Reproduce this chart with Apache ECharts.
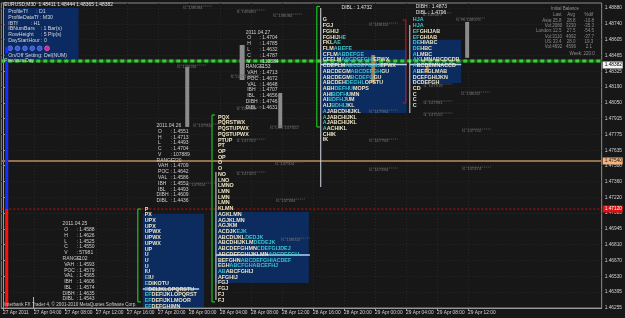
<!DOCTYPE html>
<html><head><meta charset="utf-8">
<script src="https://cdn.jsdelivr.net/npm/echarts@6.0.0/dist/echarts.min.js"></script>
<style>html,body{margin:0;padding:0;background:#171717;overflow:hidden}#chart{width:625px;height:318px}</style>
</head><body><div id="chart"></div>
<script>
// ================= DATA (time = hours since 27 Apr 2011 00:00, price = EURUSD) =================
const xLabels = ['27 Apr 2011','27 Apr 04:00','27 Apr 08:00','27 Apr 12:00','27 Apr 16:00','27 Apr 20:00','28 Apr 00:00','28 Apr 04:00','28 Apr 08:00','28 Apr 12:00','28 Apr 16:00','28 Apr 20:00','29 Apr 00:00','29 Apr 04:00','29 Apr 08:00','29 Apr 12:00'];
const xLabelHours = [0,4,8,12,16,20,24,28,32,36,40,44,48,52,56,60];
const yLabels = ['1.46255','1.46395','1.46530','1.46670','1.46810','1.46945','1.47085','1.47220','1.47360','1.47500','1.47635','1.47775','1.47915','1.48050','1.48190','1.48325','1.48465','1.48605','1.48740','1.48880'];

const chartTitle = 'EURUSD,M30  1.48411 1.48444 1.48365 1.48382';
const copyright = 'Interbank FX Trader 4, \u00a9 2001-2010 MetaQuotes Software Corp.';

// horizontal levels: previous-day line, orange level, red level, bid
const levelPrices = [1.48416, 1.47541, 1.47121, 1.48382];
const levelTags   = ['', '1.47540', '1.47120', '1.48382'];

// market profiles: start hour, price of first row, TPO rows ("|" switches colour)
const profileStartHour = [18.28, 27.72, 41.25, 52.86];
const profileTopPrice  = [1.47121, 1.47924, 1.48775, 1.48775];
const rowStep = 0.0005;
const profileA = ['P','PX','UPX','UPX','UPWX','UPWX','UPWX','UP','U','U','U','IU','|E|IU','|E|DIKOTU','|E|DEIJKLOPQRSTU','|EF|DEFIJKLOPQRST','|EF|DEFIJKLMOOR','|EF|DEFGHIMN'];
const profileB = ['PQX','PQRSTWX','PQSTUPWX','PQSTUPWX','PTUP','PT','OP','OP','O','O','NO','LNO','LMNO','LMN','LMN','LMN','KLMN','AGKLMN','AGJKLMN','AGJKM','ACDJK|EJK','ABCDIJKL|DEDJK','ABCDHIJKLM|DEDEJK','ABCDEFGHMN|CDEFGIJDEJ','ABCDEFGHIJKLMN|ABCDEFGH','BEFGHN|ABCDEFGHIACDEF','EGH|ABCFGHABCEFHJ','|AB|ABCFGHIJ','AFGHIJ','FGJ','FGJ','FJ','FJ'];
const profileC = ['G','FGJ','FGHIJ','FGHIJ|HE','FKL|AE','FLM|ABEFE','CFLM|ABDEFGE','CEFLM|ABCDEFGHI|EPWX','CDEFLM|ABCDEFGHIJ|EFWX','ABCDEGM|ABCDEFGH|GU','ABCDEGM|BCDEFG|GU','ABCDEH|DEGHL|OPSTU','ABH|DEFHU|MOPS','AHI|BDFH|UMN','AI|BDFHJ|UM','AIJ|BDHIJ|KL','|A|JABCDHIJKL','|A|JABCHIJKL','|A|JABCHIJKL','|A|ACHIKL','CHIK','IK'];
const profileD = ['|HJA','|HJA','|EF|GHIJAB','|EF|GHIAB','|DE|HIABC','|DE|HBC','|A|LMBC','|AK|LMNABCDCDB','|A|BCDEMNACCD','|A|BEFGLMAB','DCEFGHIJKN','DCDEFGH','CD','C','C','C'];

// value-area boxes [h0,h1,pTop,pBottom], POC lines [h0,h1,price]
const valueAreas = [[18.03,25.94,1.47078,1.46264],[27.34,39.46,1.47095,1.46474],[41.12,52.09,1.48513,1.47961],[52.73,59.11,1.48600,1.48224]];
const pocLines = [[18.03,25.30,1.46421],[27.47,39.59,1.46719],[40.99,52.09,1.48386],[52.48,59.11,1.48386]];
// initial-balance brackets (green) and day range lines (white) [h, pTop, pBottom]
const ibLines = [[17.39,1.47121,1.46308],[26.96,1.47944,1.46308],[40.48,1.48893,1.47839]];
const rangeLines = [[27.47,1.47445,1.46325],[40.99,1.48880,1.47314],[52.48,1.48731,1.47961]];
const sessionLines = [[51.97,1.48775,1.48049]];
// bars [h0,h1,pTop,pBottom]
const greyBars = [[23.51,24.02,1.48364,1.47839],[30.53,31.17,1.48556,1.48250],[35.51,36.02,1.48136,1.47830],[59.62,60.13,1.48758,1.48444]];
const tanBars = [[47.50,48.01,1.48469,1.48224],[54.52,54.90,1.48373,1.48311]];
const blueDayBars = [[0.29,0.68,1.48408,1.47121],[0.29,0.68,1.48538,1.48486]];
const redDayBars = [[0.29,0.68,1.47121,1.46255]];
const markerTicks = [[3.87,4.00,1.46351,1.46255]];

// daily statistics
const statLabels = ['O','H','L','C','V','RANGE','VAH','POC','VAL','IBH','IBL','DIBH','DIBL'];
const statDates = ['2011.04.25','2011.04.26','2011.04.27'];
const stats0425 = ['1.4588','1.4626','1.4525','1.4550','57981','102','1.4593','1.4579','1.4565','1.4606','1.4574','1.4635','1.4543'];
const stats0426 = ['1.4551','1.4713','1.4493','1.4704','107889','220','1.4709','1.4642','1.4586','1.4551','1.4493','1.4609','1.4436'];
const stats0427 = ['1.4704','1.4785','1.4632','1.4787','110384','153','1.4713','1.4672','1.4648','1.4707','1.4656','1.4746','1.4631'];
const statAnchors = [[7.69,1.46990],[19.81,1.47850],[31.30,1.48667]];
const statStep = 0.000505;

// initial balance table
const ibTitle = 'Initial Balance';
const ibHeader = ['Last','Avg','%dif'];
const ibRows = [['Asia:','25.8','28.8','-10.8'],['Vol:','2080','3230','-35.3'],['London:','12.5','27.5','-54.5'],['Vol:','3110','4992','-37.7'],['US:','33.4','28.0','19.3'],['Vol:','4692','4596','2.1']];
const ibWeek = 'Week: 220.0';

// settings panel
const settingsLines = ['ProfileTf      : D1','ProfileDataTf : M30','IBTf         : H1','IBNumBars    : 1 Bar(s)','RowHeight     : 5 Pip(s)','DayStartHour : 0'];
const settingsFooter = 'On/Off Setting: Del(NUM)';
const prevDayText = 'Previous Day';
const buttonKinds = ['b','b','b','b','b','m'];

const dibTexts = [[43.67,1.48880,'DIBL : 1.4732'],[53.24,1.48889,'DIBH : 1.4873'],[53.24,1.48836,'DIBL : 1.4796']];
const tlLabels = [[23.26,1.48880,'tL 148084'],[30.15,1.48845,'tL 148080'],[34.87,1.48810,'tL 148084'],[47.24,1.48731,'tL 148050'],[22.49,1.48364,'tL 148056'],[54.14,1.48819,'tL 148089'],[58.47,1.48775,'tL Hi 148076'],[54.26,1.48198,'tL 147918'],[59.11,1.48128,'tL 148032'],[54.26,1.48049,'tL 147981'],[30.15,1.47996,'tL 147986'],[34.49,1.47830,'tL Low 147922'],[30.15,1.47716,'tL 147702'],[35.12,1.47515,'tL 147904'],[30.15,1.47428,'tL 147420'],[47.24,1.47970,'tL 147984'],[47.24,1.47716,'tL 147769'],[47.24,1.47463,'tL 147494'],[35.25,1.47191,'tL 147384'],[54.26,1.47944,'tL 147552'],[59.24,1.47804,'tL 147750'],[59.24,1.47471,'tL 147474'],[24.54,1.47848,'tL 147900'],[23.64,1.47331,'tL 147854'],[35.89,1.46850,'tL 148000'],[29.38,1.48276,'tL Low 148066']];

// ================= CHART =================
const FONT = '"Liberation Sans", Arial, sans-serif';
const H_MIN = -0.2169, H_MAX = 77.226, P_MIN = 1.46255, P_MAX = 1.489237;
const yTickVals = yLabels.map(Number);
const CREAM = '#ece4c4', CYAN = '#3ec4cc';

const under = [], levels = [], marks = [], texts = [];
const rect = (list, r, fill) => list.push({t:'rect', h0:r[0], h1:r[1], p0:r[2], p1:r[3], fill});
const vline = (list, l, stroke, w, dash) => list.push({t:'line', h0:l[0], p0:l[1], h1:l[0], p1:l[2], stroke, w, dash});
const hline = (list, h0, h1, p, stroke, w, dash) => list.push({t:'line', h0, p0:p, h1, p1:p, stroke, w, dash});
const text = (h, p, s, o) => texts.push(Object.assign({t:'text', h, p, text:s, fill:'#cfcfcf', size:5}, o||{}));

// horizontal levels + axis tags
hline(levels, H_MIN, H_MAX, levelPrices[0], '#1b5a1b', 3);
hline(levels, H_MIN, H_MAX, levelPrices[0], '#36d036', 3, [4,3]);
hline(levels, H_MIN, H_MAX, levelPrices[1], '#94704a', 2);
hline(levels, H_MIN, H_MAX, levelPrices[2], '#c81414', 1, [2,2]);
const tagStyle = [null, ['#f4b27c','#202020'], ['#e01010','#ffffff'], ['#f4f4f4','#000000']];
[1,2,3].forEach(i => texts.push({t:'tag', h:H_MAX, p:levelPrices[i], text:levelTags[i], bg:tagStyle[i][0], fill:tagStyle[i][1]}));

// settings panel
rect(under, [0.17, 9.74, 1.48880, 1.48434], '#0b2a62');
settingsLines.forEach((s,i) => text(0.68, 1.48848 - i*0.000507, s, {fill:'#d6d6d6', size:5.2}));
buttonKinds.forEach((k,i) => marks.push({t:'circle', h:0.93 + i*0.95, p:1.48527, r:2.4, fill: k==='m' ? '#e0209a' : '#3a5ad8', stroke: k==='m' ? '#ff80c8' : '#7890ff'}));
text(0.68, 1.48460, settingsFooter, {fill:'#d6d6d6', size:5.2});
text(0.17, 1.48419, prevDayText, {fill:'#cfcfcf', size:5});
text(0.17, 1.48906, chartTitle, {fill:'#e8e8e8', size:4.9});
text(0.17, 1.46281, copyright, {fill:'#cfcfcf', size:4.6});

// value areas
valueAreas.forEach(r => rect(under, r, '#0c2b5e'));
// left day bars
blueDayBars.forEach(r => rect(marks, r, '#1a2cff'));
redDayBars.forEach(r => rect(marks, r, '#ff1010'));
markerTicks.forEach(r => rect(marks, r, '#8ab8e8'));
// grey / tan bars
greyBars.forEach(r => rect(marks, r, '#8c8c8c'));
tanBars.forEach(r => rect(marks, r, '#a87c50'));
// brackets
ibLines.forEach(l => { vline(marks, l, '#22c022', 1.2); hline(marks, l[0], l[0]+0.4, l[1], '#22c022', 1.2); hline(marks, l[0], l[0]+0.4, l[2], '#22c022', 1.2); });
rangeLines.forEach(l => vline(marks, l, '#d6dce8', 1));
sessionLines.forEach(l => { vline(marks, l, '#d01818', 1); hline(marks, l[0]-0.4, l[0], l[1], '#d01818', 1); hline(marks, l[0]-0.4, l[0], l[2], '#d01818', 1); });
pocLines.forEach(l => hline(marks, l[0], l[1], l[2], '#b8d0f0', 1.4));
// tL labels with dotted lines
tlLabels.forEach(l => { hline(marks, l[0], l[0]+3.7, l[1]+0.00017, '#5c5c5c', 1, [1,1]); text(l[0], l[1], l[2], {fill:'#727272', size:4.3}); });

// profiles
[profileA, profileB, profileC, profileD].forEach((rows, k) => {
  rows.forEach((row, i) => texts.push({t:'rich', h:profileStartHour[k], p:profileTopPrice[k] - i*rowStep, text:row}));
});

// stats
[stats0425, stats0426, stats0427].forEach((vals, k) => {
  const [h, p] = statAnchors[k];
  text(h, p, statDates[k], {size:5});
  statLabels.forEach((lab, i) => {
    text(h + (lab.length > 3 ? 0 : 0.2), p - (i+1)*statStep, lab, {size:5});
    text(h + 1.79, p - (i+1)*statStep, ': ' + vals[i], {size:5});
  });
});

// initial balance table
const ibCols = [71.49, 73.28, 75.57];
text(72.5, 1.48871, ibTitle, {fill:'#8e8e8e', size:4.5, align:'center'});
ibHeader.forEach((s,i) => text(ibCols[i], 1.48819, s, {fill:'#8e8e8e', size:4.5, align:'center'}));
ibRows.forEach((r,i) => {
  const p = 1.48772 - i*0.000468;
  text(70.85, p, r[0], {fill:'#8e8e8e', size:4.5, align:'right'});
  r.slice(1).forEach((s,j) => text(ibCols[j], p, s, {fill:'#8e8e8e', size:4.5, align:'center'}));
});
text(76.34, 1.48478, ibWeek, {fill:'#8e8e8e', size:4.5, align:'right'});
dibTexts.forEach(d => text(d[0], d[1], d[2], {fill:'#e0e0e0', size:5}));

function richOf(row) {
  let s = '', cyan = false;
  row.split('|').forEach(part => { if (part) s += '{' + (cyan ? 'c' : 'w') + '|' + part + '}'; cyan = !cyan; });
  return s;
}
const LETTER = {fontSize:5.4, fontFamily:FONT, fontWeight:'bold'};

function renderer(list) {
  return function (params, api) {
    const s = list[params.dataIndex];
    if (s.t === 'rect') {
      const a = api.coord([s.h0, s.p0]), b = api.coord([s.h1, s.p1]);
      return {type:'rect', shape:{x:Math.min(a[0],b[0]), y:Math.min(a[1],b[1]), width:Math.abs(b[0]-a[0]), height:Math.abs(b[1]-a[1])}, style:{fill:s.fill}};
    }
    if (s.t === 'line') {
      const a = api.coord([s.h0, s.p0]), b = api.coord([s.h1, s.p1]);
      return {type:'line', shape:{x1:a[0], y1:a[1], x2:b[0], y2:b[1]}, style:{stroke:s.stroke, lineWidth:s.w || 1, lineDash:s.dash || null}};
    }
    if (s.t === 'circle') {
      const a = api.coord([s.h, s.p]);
      return {type:'circle', shape:{cx:a[0], cy:a[1], r:s.r}, style:{fill:s.fill, stroke:s.stroke, lineWidth:0.6}};
    }
    const a = api.coord([s.h, s.p]);
    if (s.t === 'tag') {
      return {type:'group', children:[
        {type:'rect', shape:{x:a[0]+1, y:Math.round(a[1])-3.5, width:20, height:7}, style:{fill:s.bg}},
        {type:'text', x:a[0]+3, y:Math.round(a[1]), style:{text:s.text, fill:s.fill, fontSize:4.8, fontFamily:FONT, align:'left', verticalAlign:'middle'}}
      ]};
    }
    if (s.t === 'rich') {
      return {type:'text', x:a[0], y:a[1], style:Object.assign({text:richOf(s.text), fill:CREAM, align:'left', verticalAlign:'middle',
        rich:{w:Object.assign({fill:CREAM}, LETTER), c:Object.assign({fill:CYAN}, LETTER)}}, LETTER)};
    }
    return {type:'text', x:a[0], y:a[1], style:{text:s.text, fill:s.fill, fontSize:s.size, fontFamily:FONT, align:s.align || 'left', verticalAlign:'middle'}};
  };
}
function customSeries(name, list, z) {
  return {name, type:'custom', coordinateSystem:'cartesian2d', z, silent:true, animation:false, clip:false,
    renderItem: renderer(list), data: list.map(s => [s.h !== undefined ? s.h : s.h0, s.p !== undefined ? s.p : s.p0])};
}

const chart = echarts.init(document.getElementById('chart'), null, {renderer:'canvas'});
chart.setOption({
  backgroundColor:'#171717',
  animation:false,
  grid:{left:0, right:18, top:3, bottom:10, show:true, borderColor:'#8c8c8c', borderWidth:1},
  xAxis:{type:'value', min:H_MIN, max:H_MAX,
    axisLine:{show:true, lineStyle:{color:'#9a9a9a'}},
    axisTick:{show:true, customValues:xLabelHours, length:3, lineStyle:{color:'#9a9a9a'}},
    axisLabel:{customValues:xLabelHours, color:'#d2d2d2', fontSize:4.8, fontFamily:FONT, align:'left', margin:2,
      formatter: v => { const i = xLabelHours.findIndex(t => Math.abs(t - v) < 1e-6); return i >= 0 ? xLabels[i] : ''; }},
    splitLine:{show:true, lineStyle:{color:'#262626', type:[1,2]}}},
  yAxis:{type:'value', position:'right', min:P_MIN, max:P_MAX,
    axisLine:{show:true, lineStyle:{color:'#9a9a9a'}},
    axisTick:{show:true, customValues:yTickVals, length:2, lineStyle:{color:'#9a9a9a'}},
    axisLabel:{customValues:yTickVals, color:'#d2d2d2', fontSize:4.8, fontFamily:FONT, margin:3,
      formatter: v => { const i = yTickVals.findIndex(t => Math.abs(t - v) < 1e-7); return i >= 0 ? yLabels[i] : ''; }},
    splitLine:{show:true, lineStyle:{color:'#262626', type:[1,2]}}},
  series:[
    customSeries('panels', under, 1),
    customSeries('levels', levels, 2),
    customSeries('marks', marks, 3),
    customSeries('texts', texts, 5)
  ]
});
</script></body></html>
